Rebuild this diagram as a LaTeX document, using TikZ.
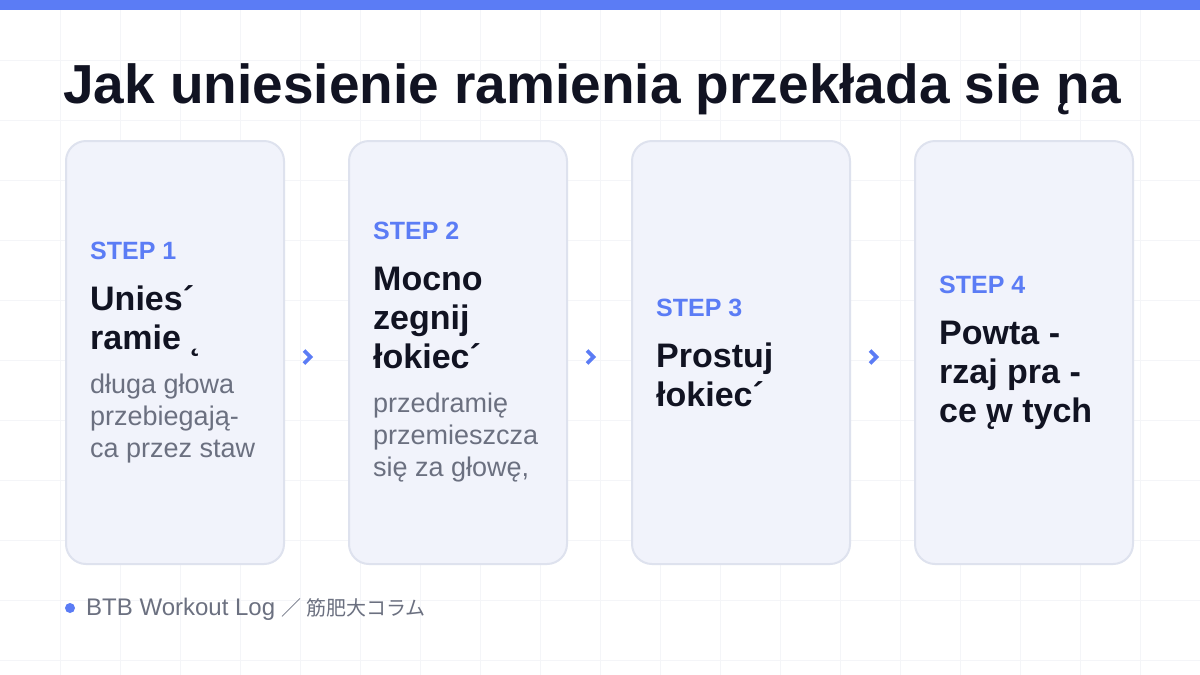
\documentclass[tikz,border=0pt]{standalone}
\usepackage{fontspec}
\setmainfont{Liberation Sans}
\newfontfamily\cjkfont{Noto Sans CJK JP}
\usetikzlibrary{positioning, calc}

\definecolor{accent}{HTML}{5B7CF5}
\definecolor{ink}{HTML}{111322}
\definecolor{cardfill}{HTML}{F1F3FB}
\definecolor{cardline}{HTML}{DEE2EE}
\definecolor{muted}{HTML}{6B7080}
\definecolor{gridcol}{HTML}{F4F5F8}

\newcommand{\resetspaces}{\spaceskip=0pt\xspaceskip=0pt\relax}
\newcommand{\stepfont}{\fontsize{25}{30}\selectfont\resetspaces\bfseries\color{accent}}
\newcommand{\headfont}{\fontsize{34}{39}\selectfont\resetspaces\bfseries\color{ink}}
\newcommand{\bodyfont}{\fontsize{27}{32}\selectfont\resetspaces\color{muted}}
\newcommand{\ogon}{\rlap{˛}}

\begin{document}
\begin{tikzpicture}[x=1pt, y=-1pt,
	card/.style={draw=cardline, line width=2pt, fill=cardfill, rounded corners=20pt,
		minimum width=218pt, minimum height=423pt, inner sep=0pt},
	content/.style={anchor=west, align=left, text width=200pt, inner sep=0pt},
	chevron/.style={draw=accent, line width=3.8pt, line join=miter, line cap=butt},
	node distance=63pt]
		% page
		\useasboundingbox (0,0) rectangle (1200,675);
		\fill[white] (0,0) rectangle (1200,675);
		
		% faint grid
		\foreach \gx in {60,120,...,1140}
			\draw[gridcol, line width=1pt] (\gx,0) -- (\gx,675);
		\foreach \gy in {60,120,...,660}
			\draw[gridcol, line width=1pt] (0,\gy) -- (1200,\gy);
		
		% top bar
		\fill[accent] (0,0) rectangle (1200,10);
		
		% title
		\node[anchor=base west, inner sep=0pt, text=ink, font=\fontsize{55}{60}\selectfont\bfseries]
			(title) at (63,103) {Jak uniesienie ramienia przekłada sie \ogon na};
		
		% cards
		\node[card] (card1) at (175,352.5) {};
		\node[card, right=of card1] (card2) {};
		\node[card, right=of card2] (card3) {};
		\node[card, right=of card3] (card4) {};
		
		% chevrons between cards
		\coordinate (next1) at ([xshift=-9pt, yshift=-4.5pt]$(card1.east)!0.5!(card2.west)$);
		\coordinate (next2) at ([xshift=-9pt, yshift=-4.5pt]$(card2.east)!0.5!(card3.west)$);
		\coordinate (next3) at ([xshift=-9pt, yshift=-4.5pt]$(card3.east)!0.5!(card4.west)$);
		\foreach \n in {next1,next2,next3}
			\draw[chevron] ([shift={(-3.5,-6.5)}]\n) -- ([shift={(3,0)}]\n) -- ([shift={(-3.5,6.5)}]\n);
		
		% card texts
		\node[content] (text1) at ([xshift=25pt]card1.west) {%
			{\stepfont STEP 1\par}\vspace{12pt}%
			{\headfont Unies´\\ramie \ogon\par}\vspace{12pt}%
			{\bodyfont długa głowa\\przebiegają-\\ca przez staw\par}};
		\node[content] (text2) at ([xshift=25pt]card2.west) {%
			{\stepfont STEP 2\par}\vspace{12pt}%
			{\headfont Mocno\\zegnij\\łokiec´\par}\vspace{12pt}%
			{\bodyfont przedramię\\przemieszcza\\się za głowę,\par}};
		\node[content] (text3) at ([xshift=25pt]card3.west) {%
			{\stepfont STEP 3\par}\vspace{12pt}%
			{\headfont Prostuj\\łokiec´\par}};
		\node[content] (text4) at ([xshift=25pt]card4.west) {%
			{\stepfont STEP 4\par}\vspace{12pt}%
			{\headfont Powta -\\rzaj pra -\\ce \ogon w tych\par}};
		
		% footer
		\fill[accent] (70,608) circle (5);
		\node[anchor=base west, inner sep=0pt, text=muted, font=\fontsize{24}{26}\selectfont]
			(source) at (86,615) {BTB Workout Log {\cjkfont\fontsize{20}{26}\selectfont ／ 筋肥大コラム}};
		
	\end{tikzpicture}
\end{document}
